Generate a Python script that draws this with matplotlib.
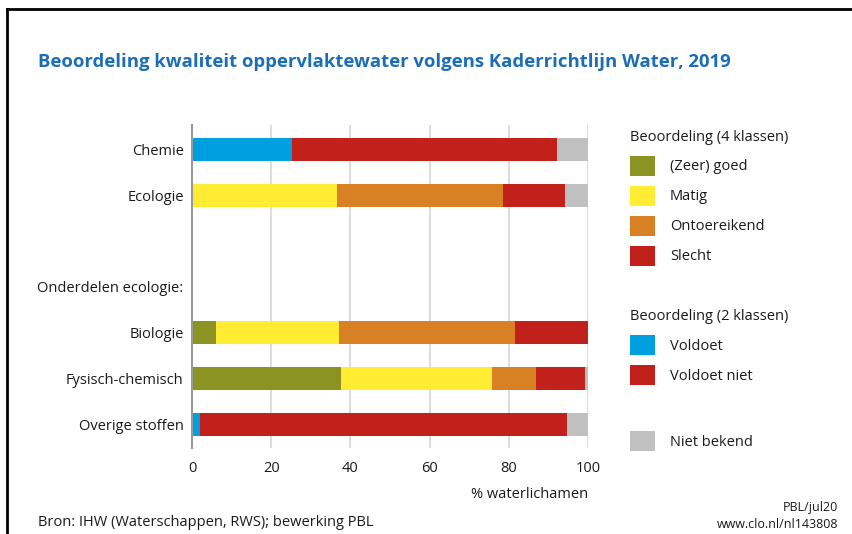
import matplotlib
matplotlib.use("Agg")
import matplotlib.pyplot as plt
from matplotlib.patches import Rectangle
from matplotlib.lines import Line2D
import numpy as np

plt.rcParams['font.family'] = ['Open Sans', 'DejaVu Sans']

# ---- data ----
row_labels = ["Chemie", "Ecologie", "", "Onderdelen ecologie:", "Biologie", "Fysisch-chemisch", "Overige stoffen"]
categories = ["Chemie", "Ecologie", "Biologie", "Fysisch-chemisch", "Overige stoffen"]
goed = [0, 0, 6.1, 37.7, 0]
matig = [0, 36.5, 31.0, 38.0, 0]
ontoereikend = [0, 42.1, 44.5, 11.2, 0]
slecht = [0, 15.6, 18.4, 12.3, 0]
voldoet = [25.2, 0, 0, 0, 2.0]
voldoet_niet = [66.9, 0, 0, 0, 92.6]
niet_bekend = [7.9, 5.8, 0, 0.8, 5.4]
x_ticks = [0, 20, 40, 60, 80, 100]

series_names = ["(Zeer) goed", "Matig", "Ontoereikend", "Slecht", "Voldoet", "Voldoet niet", "Niet bekend"]
series_values = [goed, matig, ontoereikend, slecht, voldoet, voldoet_niet, niet_bekend]
colors = ["#8b9322", "#ffec33", "#d78024", "#c2201b", "#009fe0", "#c2201b", "#c0c0c0"]

W, H = 852, 534
fig = plt.figure(figsize=(W / 100, H / 100), dpi=100)

def fx(px):
    return px / W

def fy(py):
    return 1 - py / H

ax = fig.add_axes([fx(192), fy(448), fx(588) - fx(192), fy(125) - fy(448)])

ypos = [row_labels.index(c) for c in categories]
left = np.zeros(len(categories))
for name, vals, col in zip(series_names, series_values, colors):
    vals = np.array(vals, dtype=float)
    ax.barh(ypos, vals, left=left, height=0.5, color=col, edgecolor='none', zorder=3)
    left += vals

ax.set_xlim(0, 100)
ax.set_ylim(6.52, -0.54)
ax.set_yticks(range(len(row_labels)))
ax.set_yticklabels(row_labels, fontsize=10.5, color='#1a1a1a')
ax.set_xticks(x_ticks)
ax.set_xticklabels([str(t) for t in x_ticks], fontsize=10.5, color='#1a1a1a')
ax.tick_params(length=0, pad=6)
ax.tick_params(axis='x', pad=9)
for s in ['top', 'right', 'bottom']:
    ax.spines[s].set_visible(False)
ax.spines['left'].set_color('#9a9a9a')
ax.spines['left'].set_linewidth(1.5)
ax.spines['left'].set_zorder(4)
ax.grid(axis='x', color='#dcdcdc', linewidth=1.4, zorder=0)
ax.set_axisbelow(True)

# x label
fig.text(fx(588), fy(495), "% waterlichamen", ha='right', va='center', fontsize=10.5, color='#1a1a1a')

# title
fig.text(fx(38), fy(62), "Beoordeling kwaliteit oppervlaktewater volgens Kaderrichtlijn Water, 2019",
         ha='left', va='center', fontsize=13.3, fontweight='bold', color='#1b6db5')

# legend
lx = 630
fig.text(fx(lx), fy(137), "Beoordeling (4 klassen)", ha='left', va='center', fontsize=10.5, color='#1a1a1a')
fig.text(fx(lx), fy(316), "Beoordeling (2 klassen)", ha='left', va='center', fontsize=10.5, color='#1a1a1a')
leg_y = [166, 196, 226, 256, 345, 375, 441]
for name, col, yy in zip(series_names, colors, leg_y):
    fig.patches.append(Rectangle((fx(lx), fy(yy + 10)), fx(25), fy(yy - 10) - fy(yy + 10),
                                 transform=fig.transFigure, facecolor=col, edgecolor='none'))
    fig.text(fx(670), fy(yy + 1), name, ha='left', va='center', fontsize=10.5, color='#1a1a1a')

# footer
fig.text(fx(38), fy(523), "Bron: IHW (Waterschappen, RWS); bewerking PBL", ha='left', va='center',
         fontsize=10.5, color='#1a1a1a')
fig.text(fx(838), fy(508), "PBL/jul20", ha='right', va='center', fontsize=9, color='#1a1a1a')
fig.text(fx(838), fy(524), "www.clo.nl/nl143808", ha='right', va='center', fontsize=9, color='#1a1a1a')

# frame lines (top and left)
fig.add_artist(Line2D([fx(7), 1], [fy(9), fy(9)], transform=fig.transFigure, color='black', lw=2))
fig.add_artist(Line2D([fx(7), fx(7)], [fy(9), 0], transform=fig.transFigure, color='black', lw=2))

fig.savefig("out.png", dpi=100, facecolor='white')
